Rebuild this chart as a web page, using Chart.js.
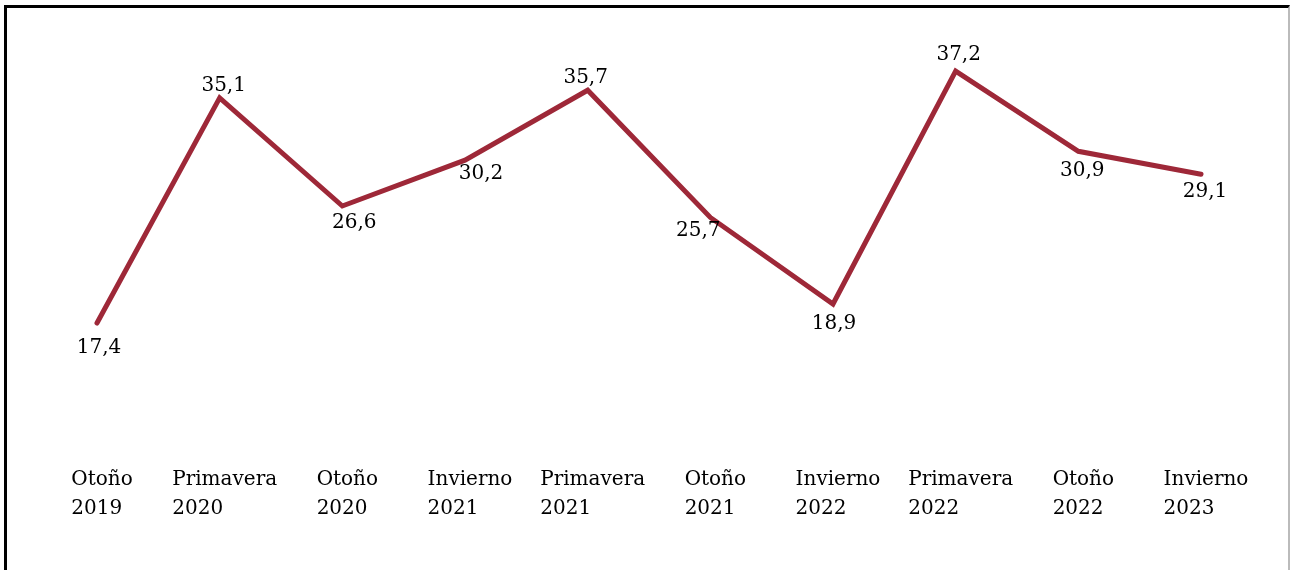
<!DOCTYPE html>
<html lang="es">

<head>
  <meta charset="UTF-8">
  <title>Serie</title>
  <script src="https://cdn.jsdelivr.net/npm/chart.js@4/dist/chart.umd.min.js"></script>
</head>
<style>
  html, body { margin: 0; padding: 0; background: #fff; overflow: hidden; }
  #wrap { position: relative; width: 1290px; height: 570px; }
  #frame {
    position: absolute; left: 4px; top: 5px; width: 1281px; height: 600px;
    border-top: 3px solid #000; border-left: 3px solid #000; border-right: 2px solid #bbb;
    pointer-events: none;
  }
</style>

<body>
  <div id="wrap">
    <canvas id="serie" width="1290" height="570"></canvas>
    <div id="frame"></div>
  </div>

  <script>
    const periods = [
      ["Otoño", "2019"], ["Primavera", "2020"], ["Otoño", "2020"], ["Invierno", "2021"], ["Primavera", "2021"],
      ["Otoño", "2021"], ["Invierno", "2022"], ["Primavera", "2022"], ["Otoño", "2022"], ["Invierno", "2023"]
    ];
    const values = [17.4, 35.1, 26.6, 30.2, 35.7, 25.7, 18.9, 37.2, 30.9, 29.1];

    // where each value label sits relative to its point (dx, dy)
    const labelOffsets = [[2, 25], [4, -12], [12, 17], [16, 14], [-2, -12], [-12, 13], [1, 20], [3, -16], [4, 20], [4, 18]];

    const font = '20px "DejaVu Serif"';

    const textPlugin = {
      id: 'textPlugin',
      afterDatasetsDraw(chart) {
        const ctx = chart.ctx;
        const meta = chart.getDatasetMeta(0);
        const xs = chart.scales.x;
        ctx.save();
        ctx.font = font;
        ctx.fillStyle = '#000';
        // value labels
        ctx.textAlign = 'center';
        ctx.textBaseline = 'middle';
        meta.data.forEach((pt, i) => {
          const txt = values[i].toFixed(1).replace('.', ',');
          ctx.fillText(txt, pt.x + labelOffsets[i][0], pt.y + labelOffsets[i][1]);
        });
        // category labels, lines left aligned inside a centred block
        ctx.textAlign = 'left';
        ctx.textBaseline = 'alphabetic';
        periods.forEach((lines, i) => {
          const cx = xs.getPixelForValue(i);
          const w = Math.max(...lines.map(l => ctx.measureText(l).width));
          lines.forEach((l, j) => {
            ctx.fillText(l, cx - w / 2 + 5, 485 + j * 29);
          });
        });
        ctx.restore();
      }
    };

    new Chart('serie', {
      type: 'line',
      data: {
        labels: periods.map(p => p.join(' ')),
        datasets: [{
          data: values,
          borderColor: '#9e2838',
          borderWidth: 5,
          borderCapStyle: 'round',
          borderJoinStyle: 'miter',
          pointRadius: 0,
          tension: 0,
          clip: false
        }]
      },
      options: {
        responsive: false,
        animation: false,
        layout: { padding: { left: 97, right: 89, top: 35.5, bottom: 114.6 } },
        plugins: { legend: { display: false }, tooltip: { enabled: false } },
        scales: {
          x: { display: false, offset: false },
          y: { display: false, min: 7, max: 40 }
        }
      },
      plugins: [textPlugin]
    });
  </script>
</body>

</html>
